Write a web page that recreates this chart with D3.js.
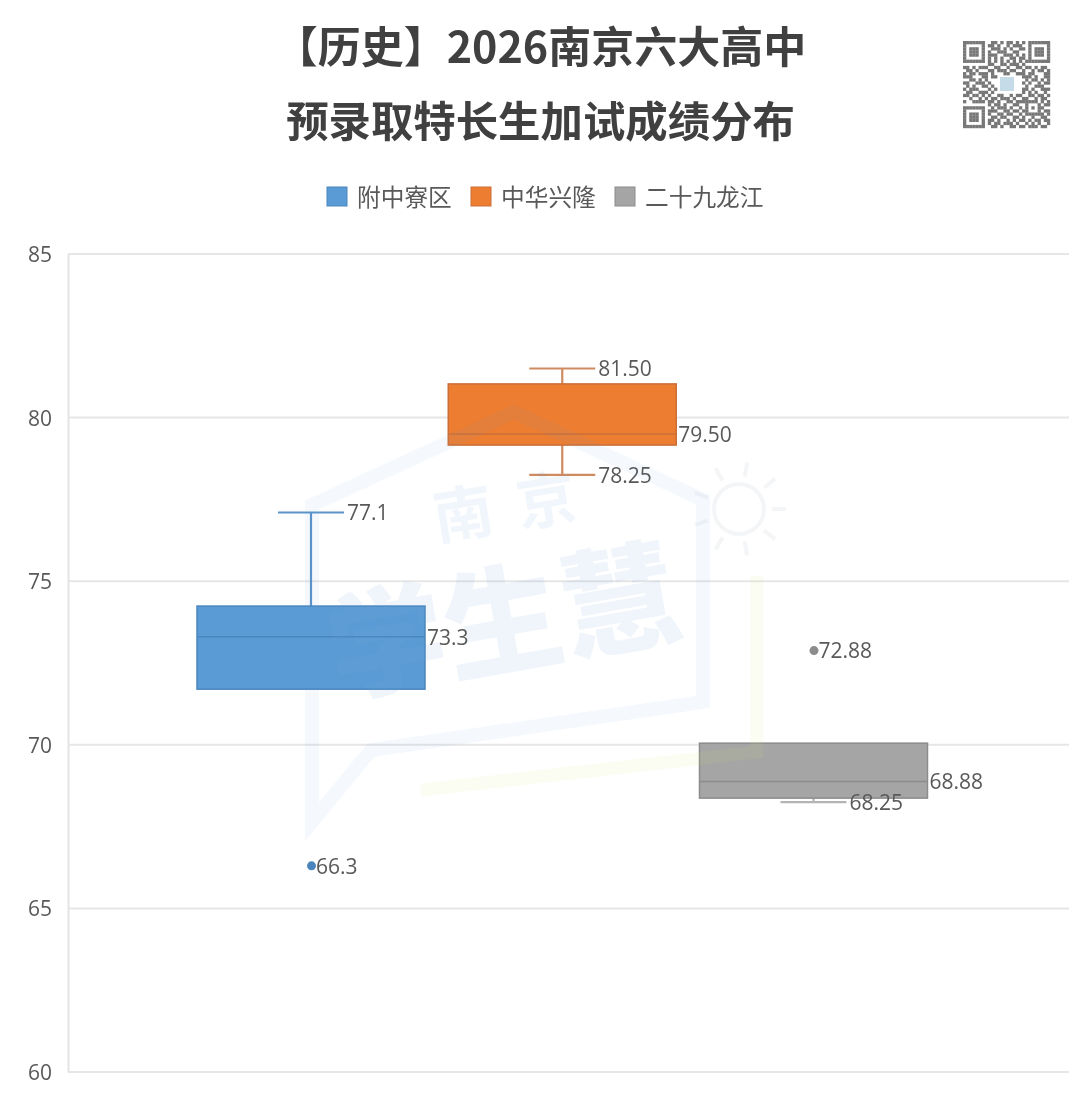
<!DOCTYPE html>
<html><head><meta charset="utf-8">
<style>html,body{margin:0;padding:0;background:#fff}svg{display:block;filter:blur(0.45px)}text{font-family:"Noto Sans CJK SC","Noto Sans",sans-serif}</style>
<script src="https://cdnjs.cloudflare.com/ajax/libs/d3/7.8.5/d3.min.js"></script>
</head><body><svg id="c" width="1080" height="1093"></svg>
<script>
const titleLines = ["【历史】2026南京六大高中", "预录取特长生加试成绩分布"];
const seriesNames = ["附中寮区", "中华兴隆", "二十九龙江"];
const seriesColors = ["#5b9bd5", "#ed7d31", "#a5a5a5"];
const seriesStrokes = ["#4a86bd", "#c9703a", "#8c8c8c"];
const whiskerColors = ["#5a93c8", "#cf8a60", "#b4b4b4"];
const q1Values = [71.7, 79.16, 68.37];
const q3Values = [74.24, 81.03, 70.05];
const medianValues = [73.3, 79.5, 68.88];
const whiskerHigh = [77.1, 81.5, null];
const whiskerLow = [null, 78.25, 68.25];
const outlierValues = [66.3, null, 72.88];
const medianLabels = ["73.3", "79.50", "68.88"];
const highLabels = ["77.1", "81.50", null];
const lowLabels = [null, "78.25", "68.25"];
const outlierLabels = ["66.3", null, "72.88"];
const yTicks = [60, 65, 70, 75, 80, 85];
const qrRows = [
"1111111001101011010101111111",
"1000001011010010111001000001",
"1011101001110101001101011101",
"1011101010011100110001011101",
"1011101011100111010101011101",
"1000001010101001101101000001",
"1111111010101010101011111111",
"0000000011001101110100000000",
"1101011100110010011011010110",
"0110100011011101100100101101",
"1011011101000110011101100011",
"1110001101100000000111010011",
"0011010100000000000010110101",
"1100111010000000000101001011",
"0101001101000000000010011100",
"1011100010100000000110100111",
"0110011101000000000101010010",
"1101101010011001011001101101",
"0010010101101110100110010110",
"1001111011010011011111110101",
"0000000010110100110010001011",
"1111111001011101001010101100",
"1000001011100110110110001011",
"1011101010011011001011111101",
"1011101001101100110100100110",
"1011101011010010101101011011",
"1000001010110111010010101001",
"1111111001101001101101110110"];

const svg = d3.select("#c");
const plot = {left: 68, right: 1069, top: 254, bottom: 1072};
const y = d3.scaleLinear().domain([60, 85]).range([plot.bottom, plot.top]);
const x = d3.scalePoint().domain(seriesNames).range([311, 813.5]);
const boxHalf = 114, capHalf = 33;
const labelGray = "#595959";
const numFont = '"Open Sans","Noto Sans",sans-serif';

// Title
svg.selectAll("text.title").data(titleLines).join("text").attr("class", "title")
  .attr("x", 540.5).attr("y", (d, i) => 63 + i * 74).attr("text-anchor", "middle")
  .attr("font-size", (d, i) => i ? 42.4 : 43).attr("font-weight", 700).attr("fill", "#404040").text(d => d);

// QR code
const qrN = qrRows.length, qrSize = 87;
const qrScale = d3.scaleBand().domain(d3.range(qrN)).range([0, qrSize]);
const qr = svg.append("g").attr("transform", "translate(963,41)");
qrRows.forEach((row, r) => row.split("").forEach((c, k) => {
  if (c === "1") qr.append("rect").attr("x", qrScale(k)).attr("y", qrScale(r))
    .attr("width", qrScale.bandwidth() + .2).attr("height", qrScale.bandwidth() + .2).attr("fill", "#777777");
}));
qr.append("rect").attr("x", 37).attr("y", 36).attr("width", 14).attr("height", 14).attr("fill", "#c5dbe8");

// Legend
const legendXs = [327, 471, 615];
const legend = svg.selectAll("g.leg").data(seriesNames).join("g").attr("class", "leg")
  .attr("transform", (d, i) => `translate(${legendXs[i]},187)`);
legend.append("rect").attr("width", 20).attr("height", 19)
  .attr("fill", (d, i) => seriesColors[i]).attr("stroke", (d, i) => seriesStrokes[i]).attr("stroke-width", 1);
legend.append("text").attr("x", 30).attr("y", 19).attr("font-size", 23.7).attr("fill", labelGray).text(d => d);

// Axis and grid
const axis = d3.axisLeft(y).tickValues(yTicks).tickSize(0).tickPadding(16);
const ag = svg.append("g").attr("transform", `translate(${plot.left},0)`).call(axis);
ag.select(".domain").attr("stroke", "#e4e4e4").attr("stroke-width", 2);
ag.selectAll("text").attr("font-size", 21).attr("fill", labelGray).attr("dy", "0.36em")
  .style("font-family", numFont);
svg.append("g").selectAll("line").data(yTicks).join("line")
  .attr("x1", plot.left).attr("x2", plot.right).attr("y1", d => y(d)).attr("y2", d => y(d))
  .attr("stroke", "#e6e6e6").attr("stroke-width", 2);

// Boxes
const boxes = svg.append("g");
seriesNames.forEach((name, i) => {
  const cx = x(name), col = seriesColors[i], st = seriesStrokes[i], wc = whiskerColors[i];
  const g = boxes.append("g");
  [whiskerHigh[i] === null ? null : [whiskerHigh[i], q3Values[i]], whiskerLow[i] === null ? null : [whiskerLow[i], q1Values[i]]]
    .filter(Boolean).forEach(([w, edge]) => {
      g.append("line").attr("x1", cx).attr("x2", cx).attr("y1", y(w)).attr("y2", y(edge)).attr("stroke", wc).attr("stroke-width", 2.2);
      g.append("line").attr("x1", cx - capHalf).attr("x2", cx + capHalf).attr("y1", y(w)).attr("y2", y(w)).attr("stroke", wc).attr("stroke-width", 2.2);
    });
  g.append("rect").attr("x", cx - boxHalf).attr("width", boxHalf * 2)
    .attr("y", y(q3Values[i])).attr("height", y(q1Values[i]) - y(q3Values[i]))
    .attr("fill", col).attr("stroke", st).attr("stroke-width", 1.5);
  g.append("line").attr("x1", cx - boxHalf).attr("x2", cx + boxHalf)
    .attr("y1", y(medianValues[i])).attr("y2", y(medianValues[i])).attr("stroke", st).attr("stroke-width", 1.5);
  if (outlierValues[i] !== null)
    g.append("circle").attr("cx", cx + .5).attr("cy", y(outlierValues[i])).attr("r", 4.5).attr("fill", st);
});

// Watermark, lying over the chart
const wm = svg.append("g");
wm.append("path").attr("d", "M312 822L312 505L514 412L703 500L703 702L371 750Z")
  .attr("fill", "none").attr("stroke", "#5b9bd5").attr("stroke-opacity", .06).attr("stroke-width", 14);
wm.append("path").attr("d", "M421 790L757 752L757 576")
  .attr("fill", "none").attr("stroke", "#d8e86a").attr("stroke-opacity", .09).attr("stroke-width", 13);
wm.append("text").attr("transform", "translate(437,540) rotate(-9)").attr("font-size", 60).attr("letter-spacing", 24).attr("font-weight", 700)
  .attr("fill", "#5b9bd5").attr("fill-opacity", .09).text("南京");
wm.append("text").attr("transform", "translate(336,695) rotate(-10)").attr("font-size", 118).attr("font-weight", 900)
  .attr("fill", "#6aa5dc").attr("fill-opacity", .11).text("学生慧");
const bulb = wm.append("g").attr("fill", "none").attr("stroke", "#8aa0b5").attr("stroke-opacity", .1).attr("stroke-width", 4);
bulb.append("circle").attr("cx", 739).attr("cy", 509).attr("r", 25);
bulb.selectAll("line").data(d3.range(0, 360, 40)).join("line")
  .attr("transform", d => `translate(739,509) rotate(${d})`)
  .attr("x1", 33).attr("x2", 47).attr("y1", 0).attr("y2", 0);

// Data labels
const labels = svg.append("g");
const label = (lx, v, t) => labels.append("text").attr("x", lx).attr("y", y(v)).attr("dy", "0.37em")
  .attr("font-size", 21).attr("fill", labelGray).style("font-family", numFont).text(t);
seriesNames.forEach((name, i) => {
  const cx = x(name);
  if (whiskerHigh[i] !== null) label(cx + capHalf + 3, whiskerHigh[i], highLabels[i]);
  if (whiskerLow[i] !== null) label(cx + capHalf + 3, whiskerLow[i], lowLabels[i]);
  label(cx + boxHalf + 2, medianValues[i], medianLabels[i]);
  if (outlierValues[i] !== null) label(cx + 5, outlierValues[i], outlierLabels[i]);
});
</script></body></html>
